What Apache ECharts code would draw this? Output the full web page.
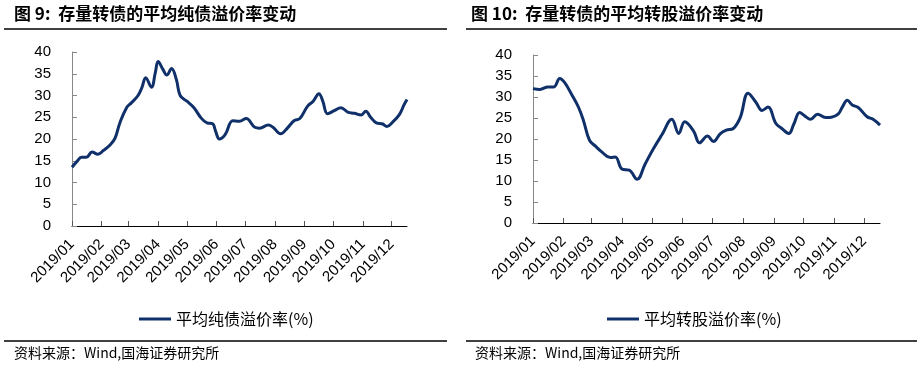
<!DOCTYPE html>
<html><head><meta charset="utf-8">
<script src="https://cdn.jsdelivr.net/npm/echarts@6/dist/echarts.min.js"></script>
<style>html,body{margin:0;padding:0;background:#fff}#c{width:920px;height:365px}</style>
</head><body><div id="c"></div>
<script>
// Left chart: 平均纯债溢价率 (%)
const bondDates = ['2019-01-01','2019-01-06','2019-01-11','2019-01-16','2019-01-22','2019-01-28','2019-02-03','2019-02-10','2019-02-15','2019-02-20','2019-02-27','2019-03-04','2019-03-11','2019-03-15','2019-03-19','2019-03-25','2019-03-29','2019-04-01','2019-04-06','2019-04-10','2019-04-15','2019-04-20','2019-04-24','2019-05-01','2019-05-08','2019-05-16','2019-05-22','2019-05-28','2019-05-31','2019-06-04','2019-06-10','2019-06-18','2019-06-25','2019-07-02','2019-07-11','2019-07-16','2019-07-25','2019-07-30','2019-08-07','2019-08-14','2019-08-21','2019-08-27','2019-09-04','2019-09-10','2019-09-16','2019-09-20','2019-09-25','2019-10-02','2019-10-09','2019-10-16','2019-10-23','2019-10-30','2019-11-04','2019-11-09','2019-11-15','2019-11-21','2019-11-26','2019-12-02','2019-12-09','2019-12-14','2019-12-17'];
const bondValues = [13.5,14.8,15.8,15.8,17.0,16.5,17.4,18.7,20.2,23.7,27.2,28.3,30.0,31.8,34.1,31.9,35.2,37.8,36.0,34.7,36.2,33.7,30.0,28.7,27.3,24.8,23.7,23.5,21.8,20.0,21.0,24.2,24.1,24.7,22.7,22.5,23.2,22.7,21.2,22.5,24.2,24.7,27.5,28.7,30.4,28.7,25.8,26.5,27.2,26.2,25.9,25.5,26.4,25.0,23.7,23.5,22.9,23.9,25.6,27.9,29.1];

// Right chart: 平均转股溢价率 (%)
const convDates = ['2019-01-01','2019-01-08','2019-01-16','2019-01-22','2019-01-28','2019-02-02','2019-02-09','2019-02-16','2019-02-21','2019-02-27','2019-03-05','2019-03-11','2019-03-20','2019-03-25','2019-04-01','2019-04-08','2019-04-16','2019-04-24','2019-05-02','2019-05-11','2019-05-21','2019-05-28','2019-06-03','2019-06-12','2019-06-18','2019-06-26','2019-07-02','2019-07-09','2019-07-15','2019-07-22','2019-07-29','2019-08-06','2019-08-14','2019-08-20','2019-08-26','2019-09-03','2019-09-09','2019-09-16','2019-09-21','2019-09-27','2019-10-02','2019-10-08','2019-10-15','2019-10-23','2019-10-29','2019-11-05','2019-11-09','2019-11-14','2019-11-19','2019-11-25','2019-12-04','2019-12-10','2019-12-17'];
const convValues = [32.0,31.8,32.4,32.4,34.4,33.4,30.6,27.5,24.3,19.7,18.3,17.0,15.6,15.7,12.8,12.6,10.4,14.0,17.5,21.0,24.7,21.3,24.1,21.9,19.1,20.7,19.4,21.3,22.1,22.5,25.1,30.9,28.7,26.8,27.6,23.7,22.5,21.3,23.5,26.3,25.5,24.7,25.9,25.1,25.2,26.0,27.6,29.2,28.1,27.5,25.3,24.7,23.3];

const yTicks = [0, 40, 5]; // min, max, interval
const xRange = ['2019-01-01', '2019-12-17'];
const titles = ['图 9:  存量转债的平均纯债溢价率变动', '图 10:  存量转债的平均转股溢价率变动'];
const seriesNames = ['平均纯债溢价率(%)', '平均转股溢价率(%)'];
const sourceText = '资料来源：Wind,国海证券研究所';

const lineColor = '#10306a';
const font = '"Liberation Sans", Arial, sans-serif';
const cjk = '"Noto Sans CJK SC", sans-serif';

function fmtMonth(v) {
  const d = new Date(v);
  return d.getFullYear() + '/' + String(d.getMonth() + 1).padStart(2, '0');
}
function xAxisCfg(gi) {
  return {
    type: 'time', gridIndex: gi, min: xRange[0], max: xRange[1], splitNumber: 12,
    axisLine: { lineStyle: { color: '#000', width: 1 } },
    axisTick: { inside: true, length: 5, lineStyle: { color: '#555' } },
    axisLabel: { rotate: 45, margin: 16, fontSize: 15, color: '#000', fontFamily: font, formatter: fmtMonth, hideOverlap: false },
    splitLine: { show: false }, minorTick: { show: false }
  };
}
function yAxisCfg(gi) {
  return {
    type: 'value', gridIndex: gi, min: yTicks[0], max: yTicks[1], interval: yTicks[2],
    axisLine: { show: true, lineStyle: { color: '#888' } },
    axisTick: { show: true, inside: true, length: 5, lineStyle: { color: '#888' } },
    axisLabel: { margin: 21, fontSize: 15, color: '#000', fontFamily: font },
    splitLine: { show: false }
  };
}
function pairs(ds, vs) { return ds.map((d, i) => [d, vs[i]]); }

const chart = echarts.init(document.getElementById('c'), null, { renderer: 'canvas' });
const legendBase = { icon: 'rect', itemWidth: 32, itemHeight: 3, itemGap: 4, top: 306,
  textStyle: { fontSize: 16, color: '#000', fontFamily: cjk } };
chart.setOption({
  animation: false,
  backgroundColor: '#fff',
  grid: [
    { left: 72, right: 513, top: 52, bottom: 139 },
    { left: 533, right: 40, top: 55, bottom: 142 }
  ],
  xAxis: [xAxisCfg(0), xAxisCfg(1)],
  yAxis: [yAxisCfg(0), yAxisCfg(1)],
  legend: [
    Object.assign({ data: [seriesNames[0]], left: 134 }, legendBase),
    Object.assign({ data: [seriesNames[1]], left: 602 }, legendBase)
  ],
  series: [
    { name: seriesNames[0], type: 'line', xAxisIndex: 0, yAxisIndex: 0, data: pairs(bondDates, bondValues),
      smooth: 0.4, symbol: 'none', lineStyle: { color: lineColor, width: 3 }, itemStyle: { color: lineColor } },
    { name: seriesNames[1], type: 'line', xAxisIndex: 1, yAxisIndex: 1, data: pairs(convDates, convValues),
      smooth: 0.4, symbol: 'none', lineStyle: { color: lineColor, width: 3 }, itemStyle: { color: lineColor } }
  ],
  graphic: [
    { type: 'text', left: 14, top: 5, style: { text: titles[0], font: 'bold 17px ' + cjk, fill: '#000' } },
    { type: 'text', left: 471, top: 5, style: { text: titles[1], font: 'bold 17px ' + cjk, fill: '#000' } },
    { type: 'line', shape: { x1: 4, y1: 29, x2: 447, y2: 29 }, style: { stroke: '#000', lineWidth: 1.5 } },
    { type: 'line', shape: { x1: 466, y1: 29, x2: 917, y2: 29 }, style: { stroke: '#000', lineWidth: 1.5 } },
    { type: 'line', shape: { x1: 4, y1: 341, x2: 447, y2: 341 }, style: { stroke: '#000', lineWidth: 1.5 } },
    { type: 'line', shape: { x1: 466, y1: 341, x2: 917, y2: 341 }, style: { stroke: '#000', lineWidth: 1.5 } },
    { type: 'text', left: 14, top: 346, style: { text: sourceText, font: '14px ' + cjk, fill: '#000' } },
    { type: 'text', left: 475, top: 346, style: { text: sourceText, font: '14px ' + cjk, fill: '#000' } }
  ]
});
</script></body></html>
